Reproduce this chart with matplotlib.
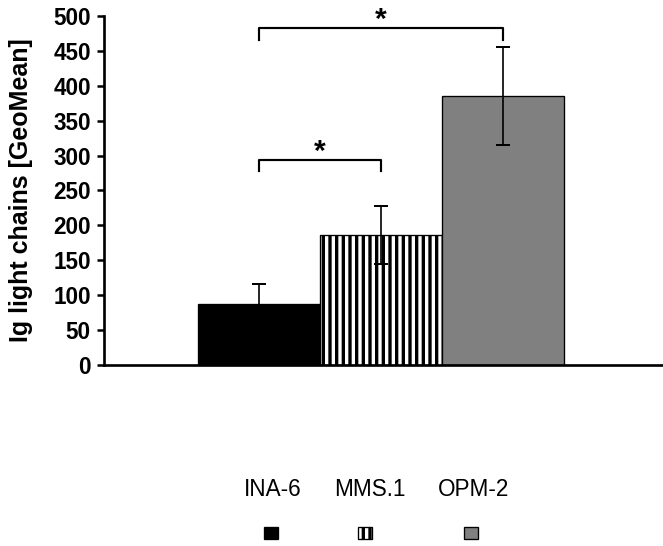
import matplotlib
matplotlib.use("Agg")
import matplotlib.pyplot as plt
from matplotlib.patches import Rectangle

cell_lines = ["INA-6", "MMS.1", "OPM-2"]
geo_mean = [87, 186, 385]
err = [29, 42, 70]
bar_colors = ["black", "white", "#808080"]
bar_hatch = [None, "|||", None]

# significance brackets: (from bar, to bar, height, leg bottom)
brackets = [(0, 1, 294, 278), (0, 2, 483, 466)]

plt.rcParams["font.family"] = ["Liberation Sans", "DejaVu Sans"]
plt.rcParams["hatch.linewidth"] = 2.0
plt.rcParams["hatch.color"] = "black"

DPI = 120
fig = plt.figure(figsize=(663 / DPI, 546 / DPI), dpi=DPI)
ax = fig.add_axes([0.1569, 0.3315, 0.8416, 0.6392])

x = list(range(len(cell_lines)))
for i in x:
    ax.bar(i, geo_mean[i], width=1.0, color=bar_colors[i], edgecolor="black",
           linewidth=0.8, hatch=bar_hatch[i], zorder=2)
ax.errorbar(x, geo_mean, yerr=err, fmt="none", ecolor="black",
            elinewidth=1.0, capsize=4, capthick=1.2, zorder=3)

for a, b, h, low in brackets:
    ax.plot([a, a, b, b], [low, h, h, low], color="black", lw=1.3,
            solid_joinstyle="round", zorder=3)
    ax.text((a + b) / 2, h - 9, "*", ha="center", va="bottom",
            fontsize=18, fontweight="bold")

ax.set_xlim(-1.27, 3.30)
ax.set_ylim(0, 500)
ax.set_yticks(range(0, 501, 50))
ax.set_xticks([])
for lab in ax.get_yticklabels():
    lab.set_fontweight("bold")
ax.tick_params(axis="y", labelsize=13.5, width=1.5, length=4, direction="out", pad=4)
ax.spines["top"].set_visible(False)
ax.spines["right"].set_visible(False)
ax.spines["left"].set_linewidth(1.6)
ax.spines["bottom"].set_linewidth(1.6)
ax.set_ylabel("Ig light chains [GeoMean]", fontsize=15, fontweight="bold", labelpad=12)

# legend drawn as labels above swatches
label_x = [273, 370, 474]
swatch_x = [270.5, 365, 471]
W, H = 663.0, 546.0
for i, name in enumerate(cell_lines):
    fig.text(label_x[i] / W, 1 - 490 / H, name, ha="center", va="center", fontsize=13.5)
    sw, sh = 14, 12
    fig.add_artist(Rectangle(((swatch_x[i] - sw / 2) / W, 1 - (533 + sh / 2) / H),
                             sw / W, sh / H, transform=fig.transFigure,
                             facecolor=bar_colors[i], edgecolor="black",
                             linewidth=0.8, hatch=bar_hatch[i]))

fig.savefig("out.png", dpi=DPI)
